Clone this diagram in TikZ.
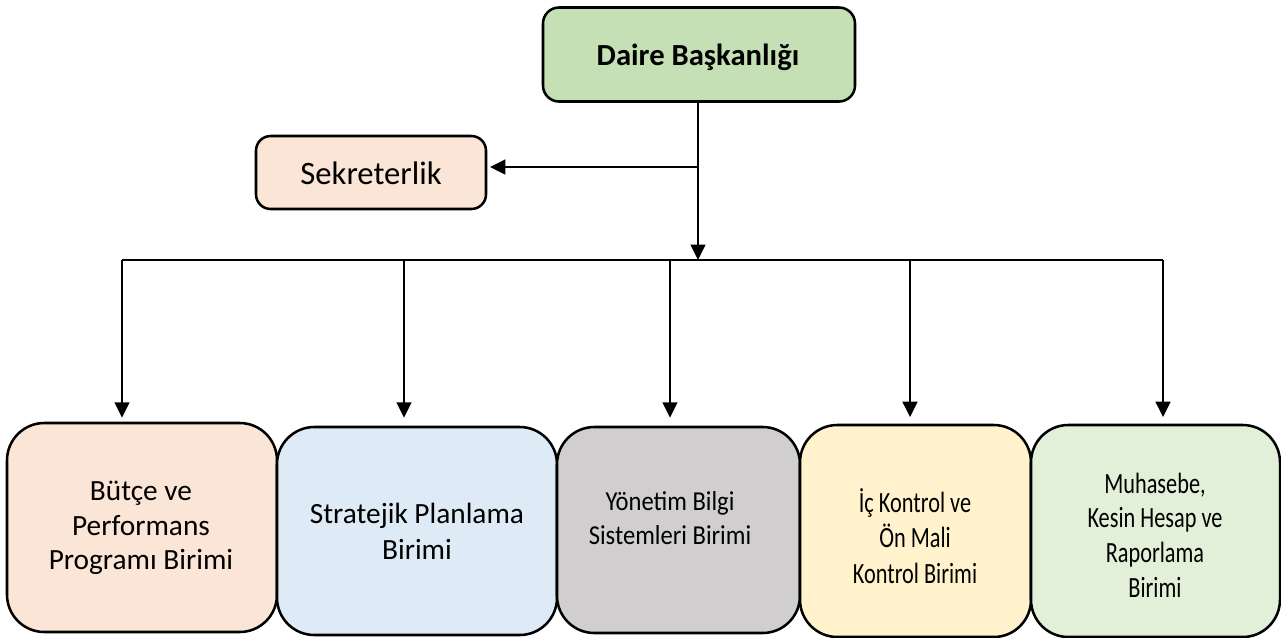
\documentclass[tikz,border=0pt]{standalone}
\usepackage{fontspec}
\setmainfont{Carlito}
\newfontfamily\condfont[FakeStretch=0.9]{Carlito}
\newfontfamily\narrowfont[FakeStretch=0.76]{Carlito}
\usetikzlibrary{arrows.meta}
\definecolor{cgreen}{HTML}{C5E0B4}
\definecolor{cpeach}{HTML}{FBE5D6}
\definecolor{cblue}{HTML}{DEEBF7}
\definecolor{cgray}{HTML}{D0CECE}
\definecolor{cyellow}{HTML}{FFF2CC}
\definecolor{clgreen}{HTML}{E2F0D9}
\tikzset{
  box/.style={draw=black, line width=1.9pt, inner sep=0pt, rectangle},
  topbox/.style={box, rounded corners=12pt},
  unitbox/.style={box, rounded corners=28pt},
  conn/.style={draw=black, line width=1.7pt},
  arr/.style={conn, -{Triangle[width=11pt,length=11.5pt]}},
  lbl/.style={align=center, inner sep=0pt, text=black},
}
\begin{document}
\begin{tikzpicture}[x=0.75pt,y=-0.75pt]
\useasboundingbox (0,0) rectangle (1281,637);
% boxes
\node[topbox, fill=cgreen, minimum width=234pt, minimum height=70.5pt] (daire) at (699,54.5) {};
\node[lbl, font=\fontsize{23}{28}\selectfont\bfseries] (tdaire) at (698,57) {Daire Başkanlığı};
\node[topbox, fill=cpeach, rounded corners=11pt, minimum width=172.5pt, minimum height=54.75pt] (sek) at (371,172.5) {};
\node[lbl, font=\fontsize{24.5}{30}\selectfont] (tsek) at (371,173) {Sekreterlik};

\node[unitbox, fill=cpeach, minimum width=202.5pt, minimum height=156.75pt] (b1) at (142,527.5) {};
\node[unitbox, fill=cblue, minimum width=210pt, minimum height=156pt] (b2) at (417,531) {};
\node[unitbox, fill=cgray, minimum width=182.25pt, minimum height=154.5pt] (b3) at (678.5,530) {};
\node[unitbox, fill=cyellow, minimum width=173.25pt, minimum height=159pt] (b4) at (915.5,531) {};
\node[unitbox, fill=clgreen, minimum width=186.75pt, minimum height=159pt] (b5) at (1155.5,531) {};

\node[lbl, font=\fontsize{22}{26}\selectfont] (t1) at (141,528) {Bütçe ve\\Performans\\Programı Birimi};
\node[lbl, font=\fontsize{22}{27}\selectfont] (t2) at (417,531) {Stratejik Planlama\\Birimi};
\node[lbl, font=\condfont\fontsize{20.5}{25}\selectfont] (t3) at (670,518) {Yönetim Bilgi\\Sistemleri Birimi};
\node[lbl, font=\narrowfont\fontsize{22}{26.5}\selectfont] (t4) at (915,536) {İç Kontrol ve\\Ön Mali\\Kontrol Birimi};
\node[lbl, font=\narrowfont\fontsize{22}{26}\selectfont] (t5) at (1155,535) {Muhasebe,\\Kesin Hesap ve\\Raporlama\\Birimi};

% connectors
\coordinate (hub) at (698,260);
\coordinate (sb) at (698,167);
\coordinate (d1) at (122,260);
\coordinate (d2) at (404,260);
\coordinate (d3) at (670,260);
\coordinate (d4) at (910,260);
\coordinate (d5) at (1163,260);
\draw[arr] (daire.south -| hub) -- (hub);
\draw[arr, shorten >=2pt] (sb) -- (sb -| sek.east);
\draw[conn] (d1) -- (d5);
\draw[arr, shorten >=3pt] (d1) -- (d1 |- b1.north);
\draw[arr, shorten >=6pt] (d2) -- (d2 |- b2.north);
\draw[arr, shorten >=6pt] (d3) -- (d3 |- b3.north);
\draw[arr, shorten >=5pt] (d4) -- (d4 |- b4.north);
\draw[arr, shorten >=5pt] (d5) -- (d5 |- b5.north);
\end{tikzpicture}
\end{document}
